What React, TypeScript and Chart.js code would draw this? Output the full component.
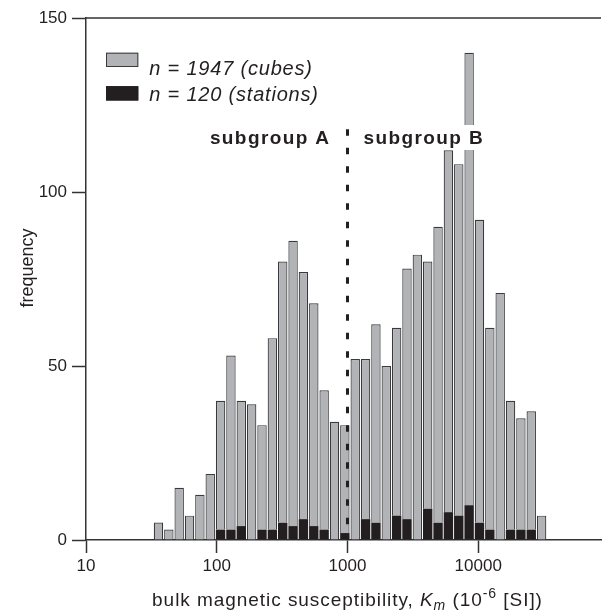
import React, { useEffect, useRef } from 'react';
import { Chart, registerables } from 'chart.js';

Chart.register(...registerables);

// Bin centres (bulk magnetic susceptibility, 10^-6 SI), log-spaced histogram bins
const binCenters = [
  35.84, 43.01, 51.61, 61.93, 74.31, 89.18, 107.0, 128.4, 154.1, 184.9,
  221.9, 266.3, 319.6, 383.5, 460.2, 552.3, 662.8, 795.4, 954.6, 1146,
  1375, 1650, 1980, 2376, 2851, 3422, 4106, 4928, 5913, 7096,
  8516, 10220, 12264, 14718, 17662, 21196, 25436, 30525,
];
// Station counts (black, bottom of stack)
const stations = [
  0, 0, 0, 0, 0, 0, 3, 3, 4, 0,
  3, 3, 5, 4, 6, 4, 3, 0, 2, 0,
  6, 5, 0, 7, 6, 0, 9, 5, 8, 7,
  10, 5, 3, 0, 3, 3, 3, 0,
];
// Cube counts (grey, stacked above stations)
const cubes = [
  5, 3, 15, 7, 13, 19, 37, 50, 36, 39,
  30, 55, 75, 82, 71, 64, 40, 34, 31, 52,
  46, 57, 50, 54, 72, 82, 71, 85, 104, 101,
  130, 87, 58, 71, 37, 32, 34, 7,
];
const seriesLabels = ['n = 1947 (cubes)', 'n = 120 (stations)'];
const xTickValues = [10, 100, 1000, 10000];
const xTickLabels = ['10', '100', '1000', '10000'];
const xMin = 10;
const xMax = 86880;
const yMin = 0;
const yMax = 150;
const yStep = 50;
const dividerValue = 1000;
const dividerTopValue = 118;
const groupLabels = ['subgroup A', 'subgroup B'];
const yTitle = 'frequency';

const FONT = "'Liberation Sans', Arial, Helvetica, sans-serif";
const INK = '#231f20';
const AXIS = '#333333';
const GREY = '#b2b3b7';
const GREY_EDGE = '#3a3a3a';

function drawSpaced(ctx: CanvasRenderingContext2D, text: string, x: number, y: number, spacing: number) {
  (ctx as any).letterSpacing = spacing + 'px';
  ctx.fillText(text, x, y);
  const w = ctx.measureText(text).width;
  (ctx as any).letterSpacing = '0px';
  return w;
}
function measureSpaced(ctx: CanvasRenderingContext2D, text: string, spacing: number) {
  (ctx as any).letterSpacing = spacing + 'px';
  const w = ctx.measureText(text).width;
  (ctx as any).letterSpacing = '0px';
  return w;
}

const decorPlugin = {
  id: 'decor',
  afterDatasetsDraw(chart: any) {
    const { ctx, chartArea, scales } = chart;
    const x = scales.x;
    const y = scales.y;
    ctx.save();

    // top frame line
    ctx.strokeStyle = AXIS;
    ctx.lineWidth = 1.5;
    ctx.beginPath();
    ctx.moveTo(chartArea.left, chartArea.top);
    ctx.lineTo(chartArea.right, chartArea.top);
    ctx.stroke();

    // dashed divider
    const xd = x.getPixelForValue(dividerValue);
    ctx.strokeStyle = INK;
    ctx.lineWidth = 3;
    ctx.setLineDash([6.5, 12]);
    ctx.beginPath();
    ctx.moveTo(xd, y.getPixelForValue(dividerTopValue));
    ctx.lineTo(xd, chartArea.bottom);
    ctx.stroke();
    ctx.setLineDash([]);

    // subgroup labels
    const sp = 1.4;
    ctx.font = `bold 19px ${FONT}`;
    ctx.textBaseline = 'alphabetic';
    ctx.textAlign = 'left';
    const baseY = 144;
    const wA = measureSpaced(ctx, groupLabels[0], sp);
    const wB = measureSpaced(ctx, groupLabels[1], sp);
    const xA = xd - 17 - wA;
    const xB = xd + 16;
    ctx.fillStyle = '#ffffff';
    ctx.fillRect(xB - 2, 125, wB + 2, 25);
    ctx.fillStyle = INK;
    drawSpaced(ctx, groupLabels[0], xA, baseY, sp);
    drawSpaced(ctx, groupLabels[1], xB, baseY, sp);

    // legend
    const ds = chart.data.datasets;
    const rows = [
      { label: ds[1].label, fill: ds[1].backgroundColor, edge: GREY_EDGE, top: 52.7, base: 74.5 },
      { label: ds[0].label, fill: ds[0].backgroundColor, edge: INK, top: 86.2, base: 100.7 },
    ];
    ctx.font = `italic 20px ${FONT}`;
    rows.forEach((r) => {
      ctx.fillStyle = r.fill;
      ctx.fillRect(106, r.top, 32.3, 14.3);
      ctx.strokeStyle = r.edge;
      ctx.lineWidth = 1;
      ctx.strokeRect(106.5, r.top + 0.5, 31.3, 13.3);
      ctx.fillStyle = INK;
      drawSpaced(ctx, r.label, 149.3, r.base, 0.8);
    });

    // y title
    ctx.save();
    ctx.translate(33, 268);
    ctx.rotate(-Math.PI / 2);
    ctx.font = `18px ${FONT}`;
    ctx.textAlign = 'center';
    ctx.textBaseline = 'alphabetic';
    ctx.fillStyle = INK;
    ctx.fillText(yTitle, 0, 0);
    ctx.restore();

    // x title with subscript / superscript
    const s = 0.95;
    const segs = [
      { t: 'bulk magnetic susceptibility, ', f: `19px ${FONT}`, dy: 0 },
      { t: 'K', f: `italic 19px ${FONT}`, dy: 0 },
      { t: 'm', f: `italic 14px ${FONT}`, dy: 4 },
      { t: ' (10', f: `19px ${FONT}`, dy: 0 },
      { t: '-6', f: `14px ${FONT}`, dy: -8 },
      { t: ' [SI])', f: `19px ${FONT}`, dy: 0 },
    ];
    ctx.textAlign = 'left';
    let total = 0;
    segs.forEach((g) => { ctx.font = g.f; total += measureSpaced(ctx, g.t, s); });
    let cx = 347.5 - total / 2;
    const tb = 605.5;
    segs.forEach((g) => {
      ctx.font = g.f;
      cx += drawSpaced(ctx, g.t, cx, tb + g.dy, s);
    });

    ctx.restore();
  },
};

export default function App() {
  const ref = useRef<HTMLCanvasElement | null>(null);

  useEffect(() => {
    if (!ref.current) return;
    const tickFont = { family: FONT, size: 17 };
    const chart = new Chart(ref.current, {
      type: 'bar',
      data: {
        datasets: [
          {
            label: seriesLabels[1],
            data: binCenters.map((v, i) => ({ x: v, y: stations[i] })),
            backgroundColor: INK,
            borderWidth: 0,
            barPercentage: 1,
            categoryPercentage: 0.91,
            stack: 'k',
          },
          {
            label: seriesLabels[0],
            data: binCenters.map((v, i) => ({ x: v, y: cubes[i] })),
            backgroundColor: GREY,
            borderColor: GREY_EDGE,
            borderWidth: 1.2,
            barPercentage: 1,
            categoryPercentage: 0.91,
            stack: 'k',
          },
        ],
      } as any,
      options: {
        animation: false,
        responsive: false,
        maintainAspectRatio: false,
        layout: { padding: { top: 18, right: 5, bottom: 31, left: 0 } },
        plugins: { legend: { display: false }, tooltip: { enabled: false } },
        scales: {
          x: {
            type: 'logarithmic',
            min: xMin,
            max: xMax,
            stacked: true,
            offset: false,
            afterBuildTicks: (sc: any) => {
              sc.ticks = xTickValues.map((v) => ({ value: v }));
            },
            afterFit: (sc: any) => { sc.height = 40; },
            ticks: {
              font: tickFont,
              color: INK,
              padding: 3,
              maxRotation: 0,
              autoSkip: false,
              callback: (v: any) => {
                const i = xTickValues.indexOf(Number(v));
                return i >= 0 ? xTickLabels[i] : '';
              },
            },
            grid: { offset: false, drawOnChartArea: false, drawTicks: true, tickLength: 13, tickWidth: 1.5, tickColor: AXIS },
            border: { display: true, color: AXIS, width: 1.5 },
          },
          y: {
            min: yMin,
            max: yMax,
            stacked: true,
            afterFit: (sc: any) => { sc.width = 86; },
            ticks: { stepSize: yStep, font: tickFont, color: INK, padding: 5 },
            grid: { drawOnChartArea: false, drawTicks: true, tickLength: 14, tickWidth: 1.5, tickColor: AXIS },
            border: { display: true, color: AXIS, width: 1.5 },
          },
        },
      } as any,
      plugins: [decorPlugin],
    });
    return () => chart.destroy();
  }, []);

  return (
    <div style={{ position: 'absolute', left: 0, top: 0, width: 606, height: 611, background: '#fff' }}>
      <canvas ref={ref} width={606} height={611} style={{ display: 'block', width: 606, height: 611 }} />
    </div>
  );
}
